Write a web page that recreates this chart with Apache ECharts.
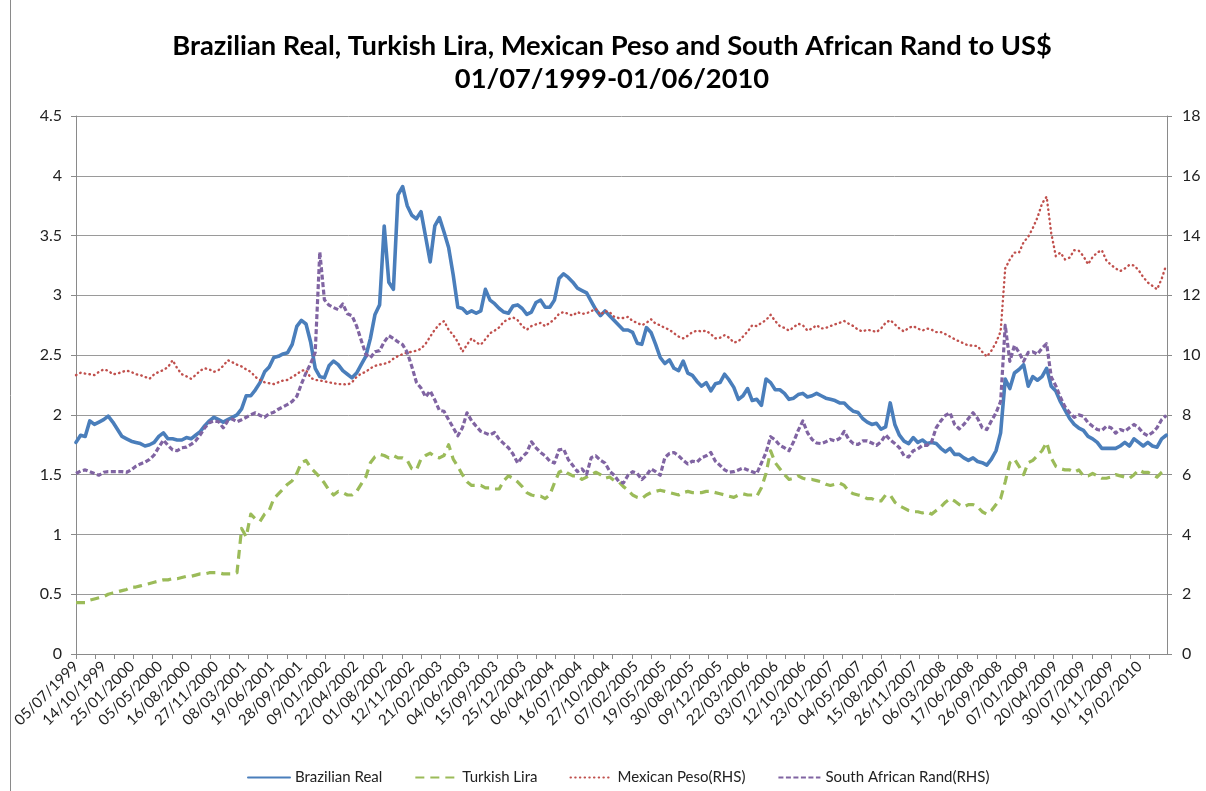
<!DOCTYPE html>
<html>
<head>
<meta charset="utf-8">
<script src="https://cdn.jsdelivr.net/npm/echarts@6/dist/echarts.min.js"></script>
<style>
  html, body { margin: 0; padding: 0; background: #ffffff; }
  #chart { width: 1206px; height: 791px; }
</style>
</head>
<body>
<div id="chart"></div>
<script>
// Weekday calendar of the chart: 05/07/1999 .. 01/06/2010
const FIRST_DAY = '1999-07-05';
const LAST_DAY = '2010-06-01';
// Readings are stored every SAMPLE_STEP business days from the first day
const SAMPLE_STEP = 12;
const LABEL_EVERY = 73;   // business days between date labels
const TICK_EVERY = 50;    // business days between tick marks

const titleLines = [
  'Brazilian Real, Turkish Lira, Mexican Peso and South African Rand to US$',
  '01/07/1999-01/06/2010'
];
const seriesNames = ['Brazilian Real', 'Turkish Lira', 'Mexican Peso(RHS)', 'South African Rand(RHS)'];

// BRL per US$ (left axis)
const brazilianReal = [
  1.77,1.83,1.82,1.95,1.92,1.94,1.96,1.99,1.94,1.88,
  1.82,1.80,1.78,1.77,1.76,1.74,1.75,1.77,1.82,1.85,
  1.80,1.80,1.79,1.79,1.81,1.80,1.83,1.86,1.91,1.95,
  1.98,1.96,1.94,1.96,1.98,2.00,2.05,2.16,
  2.16,2.21,2.27,2.36,2.40,2.48,2.49,2.51,2.52,2.59,
  2.74,2.79,2.76,2.61,2.39,2.32,2.31,2.41,2.45,2.42,
  2.37,2.34,2.31,2.35,2.42,2.49,2.64,2.84,2.92,3.58,
  3.11,3.05,3.84,3.91,3.75,3.67,3.64,3.70,3.49,3.28,
  3.58,3.65,3.53,3.40,3.17,2.90,2.89,2.85,2.87,2.85,
  2.87,3.05,2.96,2.93,2.89,2.86,2.85,2.91,2.92,2.89,
  2.84,2.86,2.94,2.96,2.90,2.90,2.96,3.14,3.18,3.15,
  3.11,3.06,3.04,3.02,2.95,2.88,2.83,2.87,2.83,
  2.79,2.75,2.71,2.71,2.69,2.60,2.59,2.73,2.69,2.59,
  2.48,2.43,2.46,2.39,2.37,2.45,2.35,2.33,2.28,2.24,
  2.27,2.20,2.26,2.27,2.34,2.29,2.23,2.13,2.16,2.22,
  2.12,2.13,2.08,2.30,2.27,2.21,2.21,2.18,2.13,
  2.14,2.17,2.18,2.15,2.16,2.18,2.16,2.14,2.13,2.12,
  2.10,2.10,2.06,2.03,2.02,1.97,1.94,1.92,1.93,1.88,
  1.90,2.10,1.92,1.83,1.78,1.76,1.81,1.77,1.79,1.76,
  1.77,1.76,1.72,1.69,1.72,1.67,1.67,1.64,1.62,
  1.64,1.61,1.60,1.58,1.63,1.70,1.85,2.30,2.22,2.35,
  2.38,2.42,2.24,2.32,2.29,2.32,2.39,2.24,2.20,2.11,
  2.04,1.97,1.92,1.89,1.87,1.82,1.80,1.77,1.72,1.72,
  1.72,1.72,1.74,1.77,1.74,1.80,1.77,1.74,1.77,1.74,
  1.73,1.80,1.83
];

// TRY per US$ (left axis)
const turkishLira = [
  0.43,0.43,0.43,0.45,0.46,0.47,0.48,0.50,0.51,0.52,
  0.53,0.54,0.56,0.56,0.57,0.58,0.59,0.60,0.61,0.62,
  0.62,0.63,0.63,0.64,0.65,0.65,0.66,0.67,0.67,0.68,
  0.68,0.68,0.67,0.67,0.67,0.68,1.05,0.98,
  1.17,1.13,1.11,1.17,1.20,1.30,1.34,1.38,1.42,1.45,
  1.51,1.60,1.62,1.56,1.52,1.48,1.43,1.37,1.33,1.36,
  1.35,1.33,1.33,1.36,1.42,1.48,1.60,1.65,1.67,1.66,
  1.64,1.66,1.64,1.64,1.62,1.55,1.54,1.63,1.66,1.68,
  1.65,1.64,1.66,1.75,1.63,1.57,1.50,1.44,1.41,1.41,
  1.41,1.39,1.39,1.38,1.38,1.45,1.49,1.47,1.44,1.40,
  1.35,1.33,1.32,1.32,1.30,1.33,1.43,1.52,1.54,1.51,
  1.49,1.49,1.46,1.48,1.50,1.52,1.50,1.47,1.48,
  1.45,1.44,1.40,1.37,1.33,1.31,1.30,1.33,1.35,1.36,
  1.37,1.36,1.35,1.34,1.33,1.35,1.36,1.35,1.35,1.35,
  1.36,1.36,1.35,1.34,1.33,1.32,1.31,1.33,1.34,1.33,
  1.33,1.32,1.39,1.51,1.70,1.60,1.55,1.50,1.46,
  1.47,1.49,1.47,1.46,1.46,1.45,1.44,1.42,1.41,1.42,
  1.43,1.41,1.36,1.34,1.33,1.32,1.30,1.30,1.28,1.28,
  1.33,1.33,1.27,1.24,1.22,1.20,1.19,1.19,1.18,1.19,
  1.17,1.20,1.23,1.27,1.30,1.28,1.25,1.23,1.25,
  1.25,1.23,1.19,1.17,1.20,1.25,1.30,1.44,1.60,1.63,
  1.57,1.50,1.60,1.62,1.66,1.70,1.77,1.64,1.57,1.55,
  1.54,1.54,1.52,1.54,1.49,1.49,1.51,1.49,1.47,1.47,
  1.48,1.50,1.49,1.48,1.47,1.50,1.54,1.52,1.52,1.50,
  1.48,1.52,1.55
];

// MXN per US$ (right axis)
const mexicanPeso = [
  9.33,9.41,9.38,9.36,9.33,9.44,9.52,9.48,9.36,9.38,
  9.44,9.48,9.44,9.36,9.33,9.27,9.21,9.36,9.44,9.50,
  9.60,9.83,9.56,9.36,9.29,9.21,9.33,9.48,9.56,9.52,
  9.44,9.50,9.64,9.83,9.76,9.68,9.62,9.52,
  9.44,9.27,9.17,9.09,9.06,9.03,9.09,9.15,9.17,9.27,
  9.36,9.48,9.50,9.24,9.17,9.15,9.12,9.09,9.06,9.03,
  9.03,9.01,9.09,9.27,9.38,9.44,9.56,9.64,9.68,9.71,
  9.76,9.88,9.97,10.03,10.09,10.11,10.15,10.21,10.38,10.62,
  10.85,11.03,11.14,10.85,10.67,10.44,10.11,10.35,10.56,10.42,
  10.35,10.53,10.73,10.82,10.93,11.12,11.20,11.26,11.17,10.97,
  10.85,10.97,11.03,11.08,10.97,11.08,11.20,11.38,11.44,11.38,
  11.32,11.44,11.38,11.40,11.47,11.55,11.35,11.47,11.44,
  11.28,11.24,11.24,11.28,11.14,11.08,11.00,11.08,11.20,11.05,
  11.00,10.91,10.85,10.73,10.62,10.56,10.65,10.77,10.82,10.79,
  10.82,10.70,10.56,10.58,10.67,10.58,10.42,10.46,10.62,10.79,
  11.00,10.97,11.08,11.17,11.35,11.14,10.97,10.91,10.82,
  10.93,11.05,11.00,10.82,10.89,11.00,10.89,10.91,10.97,11.03,
  11.08,11.14,11.05,10.97,10.85,10.79,10.85,10.82,10.77,10.89,
  11.08,11.17,11.03,10.89,10.79,10.91,10.97,10.89,10.82,10.89,
  10.85,10.77,10.77,10.70,10.62,10.53,10.46,10.39,10.32,
  10.32,10.30,10.11,9.95,10.15,10.42,10.79,12.90,13.20,13.43,
  13.43,13.78,13.96,14.25,14.60,15.07,15.30,14.08,13.31,13.43,
  13.20,13.26,13.51,13.49,13.31,13.04,13.28,13.43,13.51,13.16,
  13.02,12.90,12.81,12.90,13.02,13.00,12.84,12.61,12.43,12.32,
  12.20,12.55,13.02
];

// ZAR per US$ (right axis)
const southAfricanRand = [
  6.04,6.12,6.16,6.10,6.04,5.98,6.08,6.10,6.10,6.10,
  6.10,6.08,6.16,6.28,6.36,6.42,6.51,6.66,6.92,7.16,
  6.98,6.83,6.80,6.90,6.92,7.01,7.13,7.33,7.57,7.74,
  7.80,7.77,7.57,7.80,7.86,7.77,7.84,7.92,
  8.00,8.07,7.98,7.92,8.04,8.09,8.19,8.27,8.35,8.45,
  8.62,9.03,9.41,9.71,10.09,13.45,11.85,11.67,11.59,11.52,
  11.71,11.38,11.32,10.97,10.50,10.03,9.91,10.11,10.15,10.44,
  10.65,10.56,10.44,10.35,10.09,9.62,9.09,8.90,8.60,8.80,
  8.50,8.15,8.12,7.84,7.57,7.30,7.57,8.07,7.80,7.62,
  7.45,7.39,7.33,7.41,7.18,7.04,6.90,6.69,6.39,6.59,
  6.74,7.10,6.90,6.74,6.63,6.45,6.39,6.83,6.86,6.51,
  6.31,6.10,6.19,6.01,6.57,6.63,6.48,6.39,6.12,
  5.98,5.77,5.72,5.98,6.10,6.04,5.84,5.98,6.19,6.10,
  5.98,6.57,6.71,6.74,6.63,6.48,6.36,6.45,6.42,6.57,
  6.63,6.74,6.45,6.31,6.16,6.08,6.10,6.16,6.22,6.16,
  6.10,6.04,6.39,6.74,7.27,7.16,6.98,6.90,6.80,
  7.10,7.48,7.80,7.41,7.18,7.06,7.04,7.10,7.18,7.13,
  7.21,7.45,7.18,7.04,7.01,7.13,7.13,7.06,6.98,7.10,
  7.33,7.16,7.04,6.90,6.63,6.59,6.80,6.86,6.98,6.98,
  7.10,7.57,7.80,7.98,8.07,7.68,7.53,7.68,7.88,
  8.07,7.88,7.57,7.51,7.80,8.07,8.45,11.00,9.79,10.32,
  10.09,9.79,10.09,10.11,10.03,10.23,10.38,9.27,8.97,8.59,
  8.27,8.07,7.92,8.00,7.95,7.74,7.62,7.51,7.48,7.62,
  7.57,7.39,7.51,7.45,7.57,7.68,7.57,7.39,7.30,7.41,
  7.57,7.84,7.98
];

const leftAxis = { min: 0, max: 4.5, interval: 0.5 };
const rightAxis = { min: 0, max: 18, interval: 2 };

// ---- weekday categories (dd/mm/yyyy) ----
function pad(n) { return n < 10 ? '0' + n : '' + n; }
function weekdayCalendar(fromIso, toIso) {
  const out = [];
  const d = new Date(fromIso + 'T00:00:00Z');
  const end = new Date(toIso + 'T00:00:00Z').getTime();
  while (d.getTime() <= end) {
    const wd = d.getUTCDay();
    if (wd !== 0 && wd !== 6) {
      out.push(pad(d.getUTCDate()) + '/' + pad(d.getUTCMonth() + 1) + '/' + d.getUTCFullYear());
    }
    d.setUTCDate(d.getUTCDate() + 1);
  }
  return out;
}
const categories = weekdayCalendar(FIRST_DAY, LAST_DAY);

function toPoints(values) {
  return values.map(function (v, k) { return [k * SAMPLE_STEP, v]; });
}

const FONT = "'Lato', 'Liberation Sans', sans-serif";
const AXIS_GREY = '#8a8a8a';
const GRID_GREY = '#9a9a9a';

const chart = echarts.init(document.getElementById('chart'), null, { renderer: 'canvas' });

chart.setOption({
  animation: false,
  backgroundColor: '#ffffff',
  textStyle: { fontFamily: FONT },
  graphic: [
    {
      // chart-area frame, left edge
      type: 'line',
      silent: true,
      shape: { x1: 10.5, y1: 0, x2: 10.5, y2: 791 },
      style: { stroke: '#8a8a8a', lineWidth: 1 }
    },
    {
      type: 'text', x: 612, y: 46,
      style: {
        text: titleLines[0], font: "bold 27.3px " + FONT, fill: '#000000',
        textAlign: 'center', textVerticalAlign: 'middle'
      }
    },
    {
      type: 'text', x: 612, y: 79,
      style: {
        text: titleLines[1], font: "bold 27.3px " + FONT, fill: '#000000',
        textAlign: 'center', textVerticalAlign: 'middle'
      }
    }
  ],
  legend: {
    left: 242,
    top: 765,
    itemWidth: 42,
    itemHeight: 14,
    itemGap: 32,
    itemStyle: { opacity: 0 },
    textStyle: { fontSize: 15, color: '#222222', fontFamily: FONT },
    data: seriesNames
  },
  grid: { left: 76, right: 39, top: 116, bottom: 137 },
  xAxis: {
    type: 'category',
    data: categories,
    boundaryGap: false,
    axisLine: { lineStyle: { color: AXIS_GREY, width: 1 } },
    axisTick: {
      length: 5,
      interval: function (i) { return i % TICK_EVERY === 0; },
      lineStyle: { color: AXIS_GREY }
    },
    axisLabel: {
      interval: function (i) { return i % LABEL_EVERY === 0; },
      rotate: 45,
      margin: 10,
      fontSize: 15,
      color: '#222222',
      fontFamily: FONT
    },
    splitLine: { show: false }
  },
  yAxis: [
    {
      type: 'value',
      min: leftAxis.min, max: leftAxis.max, interval: leftAxis.interval,
      axisLine: { show: true, lineStyle: { color: AXIS_GREY } },
      axisTick: { show: true, length: 5, lineStyle: { color: AXIS_GREY } },
      axisLabel: { margin: 14, fontSize: 16, color: '#222222', fontFamily: FONT },
      splitLine: { show: true, lineStyle: { color: GRID_GREY, width: 1 } }
    },
    {
      type: 'value',
      position: 'right',
      min: rightAxis.min, max: rightAxis.max, interval: rightAxis.interval,
      axisLine: { show: true, lineStyle: { color: AXIS_GREY } },
      axisTick: { show: true, length: 5, lineStyle: { color: AXIS_GREY } },
      axisLabel: { margin: 15, fontSize: 16, color: '#222222', fontFamily: FONT },
      splitLine: { show: false }
    }
  ],
  series: [
    {
      name: seriesNames[0], type: 'line', yAxisIndex: 0,
      data: toPoints(brazilianReal), symbol: 'none',
      lineStyle: { color: '#4A7EBB', width: 3.6, join: 'round', cap: 'round' },
      itemStyle: { color: '#4A7EBB' }
    },
    {
      name: seriesNames[1], type: 'line', yAxisIndex: 0,
      data: toPoints(turkishLira), symbol: 'none',
      lineStyle: { color: '#9BBB59', width: 3.2, type: [9, 6], join: 'round' },
      itemStyle: { color: '#9BBB59' }
    },
    {
      name: seriesNames[2], type: 'line', yAxisIndex: 1,
      data: toPoints(mexicanPeso), symbol: 'none',
      lineStyle: { color: '#C0504D', width: 2.4, type: [0.5, 4.2], cap: 'round', join: 'round' },
      itemStyle: { color: '#C0504D' }
    },
    {
      name: seriesNames[3], type: 'line', yAxisIndex: 1,
      data: toPoints(southAfricanRand), symbol: 'none',
      lineStyle: { color: '#8064A2', width: 3.2, type: [5, 2.5], join: 'round' },
      itemStyle: { color: '#8064A2' }
    }
  ]
});
</script>
</body>
</html>
